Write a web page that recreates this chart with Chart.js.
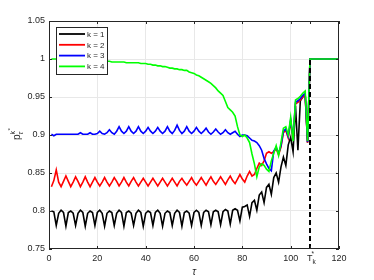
<!DOCTYPE html>
<html>
<head>
<meta charset="utf-8">
<script src="https://cdn.jsdelivr.net/npm/chart.js@4/dist/chart.umd.min.js"></script>
<style>
  html, body { margin: 0; padding: 0; background: #fff; }
</style>
</head>
<body>
<canvas id="chart" width="374" height="280" style="width:374px;height:280px"></canvas>
<script>
// tau index (x axis)
const tau = [1,2,3,4,5,6,7,8,9,10,11,12,13,14,15,16,17,18,19,20,
  21,22,23,24,25,26,27,28,29,30,31,32,33,34,35,36,37,38,39,40,
  41,42,43,44,45,46,47,48,49,50,51,52,53,54,55,56,57,58,59,60,
  61,62,63,64,65,66,67,68,69,70,71,72,73,74,75,76,77,78,79,80,
  81,82,83,84,85,86,87,88,89,90,91,92,93,94,95,96,97,98,99,100,
  101,102,103,104,105,106,107,108,109,110,111,112,113,114,115,116,117,118,119,120];

const k1 = [0.800,0.799,0.781,0.797, 0.801,0.798,0.780,0.798, 0.800,0.797,0.781,0.797, 0.801,0.798,0.780,0.797,
  0.800,0.798,0.781,0.798, 0.801,0.797,0.780,0.797, 0.800,0.798,0.781,0.797, 0.801,0.798,0.780,0.798,
  0.800,0.797,0.781,0.797, 0.801,0.798,0.780,0.797, 0.800,0.798,0.781,0.798, 0.801,0.797,0.780,0.797,
  0.800,0.798,0.781,0.797, 0.801,0.798,0.780,0.798, 0.800,0.797,0.781,0.798, 0.801,0.798,0.781,0.798,
  0.801,0.799,0.782,0.799, 0.801,0.799,0.782,0.799, 0.802,0.800,0.783,0.801, 0.803,0.801,0.787,
  0.805,0.806,0.808,0.793,0.811,0.814,0.801,0.821,0.825,0.811,0.831,0.835,0.822,0.844,0.850,0.838,
  0.858,0.871,0.860,0.887,0.897,0.878,0.938,0.880,0.945,0.950,0.953,0.890,
  1,1,1,1,1,1,1,1,1,1,1,1,1];

const k2 = [0.832,0.840,0.854,0.838, 0.832,0.839,0.846,0.839, 0.832,0.838,0.845,0.839, 0.832,0.838,0.845,0.838,
  0.832,0.838,0.844,0.838, 0.833,0.838,0.844,0.838, 0.833,0.838,0.844,0.839, 0.833,0.838,0.844,0.838,
  0.833,0.839,0.844,0.838, 0.833,0.838,0.843,0.838, 0.833,0.838,0.843,0.838, 0.833,0.838,0.843,0.838,
  0.833,0.838,0.843,0.838, 0.833,0.839,0.843,0.838, 0.834,0.839,0.844,0.838, 0.834,0.839,0.844,0.839,
  0.834,0.840,0.845,0.839, 0.835,0.840,0.845,0.840, 0.835,0.841,0.846,0.840, 0.836,0.842,0.848,
  0.842,0.838,0.846,0.852,0.846,0.848,0.856,0.863,0.860,0.866,0.876,0.878,0.876,0.878,0.882,0.874,
  0.884,0.903,0.906,0.896,0.918,0.894,0.941,0.943,0.946,0.950,0.953,0.890,
  1,1,1,1,1,1,1,1,1,1,1,1,1];

const k3 = [0.901,0.899,0.901,0.901, 0.901,0.901,0.901,0.901, 0.901,0.901,0.901,0.901, 0.903,0.901,0.901,0.901,
  0.903,0.901,0.901,0.902, 0.905,0.902,0.901,0.903, 0.907,0.903,0.901,0.905, 0.911,0.905,0.902,0.905,
  0.911,0.905,0.902,0.905, 0.911,0.905,0.902,0.905, 0.910,0.905,0.902,0.905, 0.910,0.905,0.902,0.905,
  0.911,0.905,0.902,0.906, 0.913,0.906,0.902,0.905, 0.911,0.905,0.902,0.905, 0.910,0.905,0.902,0.905,
  0.909,0.904,0.901,0.904, 0.908,0.904,0.901,0.903, 0.907,0.903,0.901,0.903, 0.905,0.901,0.898,
  0.900,0.900,0.899,0.896,0.893,0.892,0.890,0.886,0.880,0.869,0.862,0.856,0.853,0.879,0.884,0.876,
  0.886,0.905,0.908,0.898,0.920,0.896,0.943,0.945,0.948,0.952,0.955,0.891,
  1,1,1,1,1,1,1,1,1,1,1,1,1];

const k4 = [1.000,1.000,1.000,0.999, 0.999,0.999,0.999,0.999, 0.999,0.999,0.999,0.998, 0.998,0.998,0.998,0.998,
  0.998,0.998,0.997,0.997, 0.997,0.997,0.997,0.997, 0.997,0.996,0.996,0.996, 0.996,0.996,0.996,0.995,
  0.995,0.995,0.995,0.995, 0.995,0.994,0.994,0.994, 0.993,0.993,0.992,0.992, 0.991,0.991,0.990,0.990,
  0.989,0.988,0.988,0.987, 0.987,0.986,0.986,0.985, 0.985,0.983,0.982,0.981, 0.979,0.978,0.976,0.974,
  0.972,0.970,0.968,0.965, 0.962,0.958,0.955,0.952, 0.944,0.936,0.933,0.930, 0.925,0.911,0.900,
  0.898,0.900,0.896,0.890,0.875,0.862,0.845,0.858,0.862,0.860,0.855,0.852,0.866,0.876,0.886,0.873,
  0.890,0.909,0.911,0.900,0.923,0.892,0.946,0.948,0.951,0.955,0.958,0.892,
  1,1,1,1,1,1,1,1,1,1,1,1,1];

// T_k* marker
const tkX = [108, 108];
const tkY = [0.75, 1.0];

const xTicks = [0, 20, 40, 60, 80, 100, 108, 120];
const yTicks = [0.75, 0.8, 0.85, 0.9, 0.95, 1, 1.05];
const seriesNames = ['k = 1', 'k = 2', 'k = 3', 'k = 4'];
const seriesColors = ['#000000', '#ff0000', '#0000ff', '#00ff00'];

const FONT = "'Liberation Sans', Arial, sans-serif";
const TXT = '#262626';

function pts(xs, ys) { return xs.map((v, i) => ({ x: v, y: ys[i] })); }

// axes box, inner ticks, legend, labels (MATLAB look)
const decor = {
  id: 'decor',
  afterDraw(chart) {
    const { ctx, chartArea: a, scales: { x, y } } = chart;
    ctx.save();
    ctx.strokeStyle = TXT;
    ctx.lineWidth = 1;
    ctx.strokeRect(a.left + 0.5, a.top + 0.5, a.right - a.left - 1, a.bottom - a.top - 1);

    ctx.beginPath();
    xTicks.forEach(v => {
      const px = Math.round(x.getPixelForValue(v)) + 0.5;
      ctx.moveTo(px, a.bottom); ctx.lineTo(px, a.bottom - 3);
      ctx.moveTo(px, a.top); ctx.lineTo(px, a.top + 3);
    });
    yTicks.forEach(v => {
      const py = Math.round(y.getPixelForValue(v)) + 0.5;
      ctx.moveTo(a.left, py); ctx.lineTo(a.left + 3, py);
      ctx.moveTo(a.right, py); ctx.lineTo(a.right - 3, py);
    });
    ctx.stroke();

    // legend
    const lx = 56, ly = 27, lw = 51, lh = 47;
    ctx.fillStyle = '#fff';
    ctx.fillRect(lx, ly, lw, lh);
    ctx.strokeStyle = TXT;
    ctx.strokeRect(lx + 0.5, ly + 0.5, lw, lh);
    seriesNames.forEach((name, i) => {
      const yy = 34 + i * 10.8;
      ctx.strokeStyle = seriesColors[i];
      ctx.lineWidth = 1.8;
      ctx.beginPath(); ctx.moveTo(59, yy); ctx.lineTo(85, yy); ctx.stroke();
      ctx.fillStyle = TXT;
      ctx.font = '8px ' + FONT;
      ctx.textBaseline = 'middle';
      ctx.textAlign = 'left';
      ctx.fillText(name, 87, yy + 0.5);
    });

    // T_k* tick label
    const tx = x.getPixelForValue(108);
    ctx.fillStyle = TXT;
    ctx.textBaseline = 'alphabetic';
    ctx.textAlign = 'left';
    ctx.font = '9px ' + FONT;
    ctx.fillText('T', tx - 3, 260.5);
    ctx.font = '6.5px ' + FONT;
    ctx.fillText('*', tx + 1.5, 256);
    ctx.fillText('k', tx + 2.5, 264);

    // x title
    ctx.font = 'italic 10px ' + FONT;
    ctx.textAlign = 'center';
    ctx.fillText('τ', (a.left + a.right) / 2, 275);

    // y title
    ctx.translate(20, 140);
    ctx.rotate(-Math.PI / 2);
    ctx.textAlign = 'left';
    ctx.font = '10px ' + FONT;
    ctx.fillText('p', 0, 0);
    ctx.font = 'italic 7px ' + FONT;
    ctx.fillText('τ', 5.5, 3);
    ctx.font = '7px ' + FONT;
    ctx.fillText('k', 5.5, -5);
    ctx.font = '6px ' + FONT;
    ctx.fillText('*', 9.5, -8);
    ctx.restore();
  }
};

const lineSet = (label, data, color, order) => ({
  label, data, borderColor: color, borderWidth: 1.6, pointRadius: 0,
  fill: false, tension: 0, order
});

new Chart(document.getElementById('chart'), {
  type: 'line',
  data: {
    datasets: [
      lineSet(seriesNames[0], pts(tau, k1), seriesColors[0], 5),
      lineSet(seriesNames[1], pts(tau, k2), seriesColors[1], 4),
      lineSet(seriesNames[2], pts(tau, k3), seriesColors[2], 3),
      lineSet(seriesNames[3], pts(tau, k4), seriesColors[3], 2),
      { label: 'Tk', data: pts(tkX, tkY), borderColor: '#000', borderWidth: 2,
        borderDash: [5, 3], pointRadius: 0, fill: false, order: 1 }
    ]
  },
  options: {
    responsive: false,
    animation: false,
    devicePixelRatio: 1,
    layout: { padding: { top: 21, right: 35, left: 0, bottom: 0 } },
    plugins: { legend: { display: false }, tooltip: { enabled: false } },
    scales: {
      x: {
        type: 'linear', min: 0, max: 120,
        afterBuildTicks: s => { s.ticks = xTicks.map(v => ({ value: v })); },
        afterFit: s => { s.height = 31; },
        ticks: {
          font: { family: FONT, size: 9 }, color: TXT, padding: 4, maxRotation: 0,
          callback: v => (v === 108 ? '' : v)
        },
        grid: {
          drawTicks: false,
          color: c => (c.tick && (c.tick.value === 108 || c.tick.value === 0 || c.tick.value === 120) ? 'rgba(0,0,0,0)' : '#e8e8e8')
        },
        border: { display: false }
      },
      y: {
        type: 'linear', min: 0.75, max: 1.05,
        afterBuildTicks: s => { s.ticks = yTicks.map(v => ({ value: v })); },
        afterFit: s => { s.width = 49; },
        ticks: {
          font: { family: FONT, size: 9 }, color: TXT, padding: 4,
          callback: v => String(parseFloat(v.toFixed(2)))
        },
        grid: {
          drawTicks: false,
          color: c => (c.tick && (c.tick.value === 0.75 || c.tick.value === 1.05) ? 'rgba(0,0,0,0)' : '#e8e8e8')
        },
        border: { display: false }
      }
    }
  },
  plugins: [decor]
});
</script>
</body>
</html>
